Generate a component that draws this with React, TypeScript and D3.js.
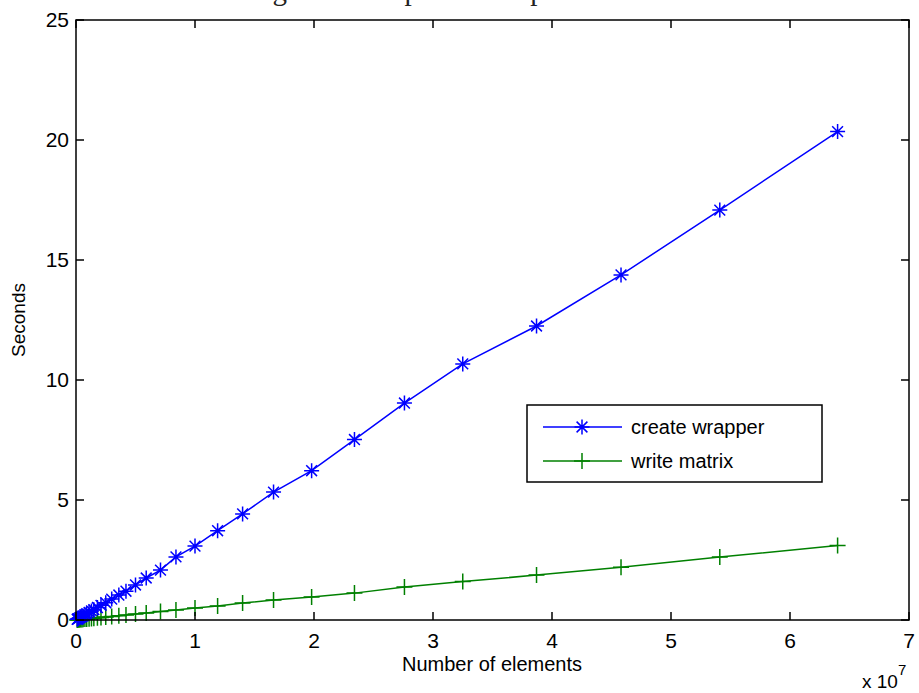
import { useEffect, useRef } from "react";
import * as d3 from "d3";

// x in units of 1e7 elements
const ELEMENTS = [
  0.01, 0.015, 0.02, 0.03, 0.04, 0.05, 0.06, 0.075, 0.09, 0.11, 0.13, 0.15, 0.18, 0.21, 0.25, 0.3, 0.36,
  0.42, 0.5, 0.59, 0.71, 0.84, 1.0, 1.19, 1.4, 1.66, 1.98, 2.34, 2.76, 3.25, 3.87, 4.58, 5.41, 6.4,
];
const CREATE_WRAPPER = [
  0.03, 0.04, 0.06, 0.09, 0.12, 0.15, 0.17, 0.22, 0.26, 0.32, 0.38, 0.43, 0.52, 0.61, 0.72, 0.87, 1.04,
  1.2, 1.46, 1.75, 2.08, 2.63, 3.08, 3.72, 4.42, 5.33, 6.22, 7.52, 9.04, 10.67, 12.25, 14.38, 17.08, 20.35,
];
const WRITE_MATRIX = [
  0.005, 0.008, 0.01, 0.015, 0.02, 0.025, 0.03, 0.037, 0.045, 0.055, 0.065, 0.075, 0.09, 0.105, 0.125,
  0.15, 0.18, 0.21, 0.25, 0.29, 0.35, 0.42, 0.5, 0.58, 0.71, 0.83, 0.96, 1.12, 1.37, 1.6, 1.87, 2.2, 2.62,
  3.1,
];
const X_TICKS = [0, 1, 2, 3, 4, 5, 6, 7];
const Y_TICKS = [0, 5, 10, 15, 20, 25];
const SERIES_NAMES = ["create wrapper", "write matrix"];
const TITLE = "Figure 5: Output of complex matrices";

const W = 919;
const H = 693;
const FONT = "'Liberation Sans', Arial, Helvetica, sans-serif";

export default function App() {
  const svgRef = useRef<SVGSVGElement>(null);

  useEffect(() => {
    const svgEl = svgRef.current;
    if (!svgEl) return;
    const root = d3.select(svgEl);
    root.selectAll("*").remove();

    const margin = { top: 20, right: 10, bottom: 73, left: 76 };
    const x = d3.scaleLinear().domain([0, 7]).range([margin.left, W - margin.right]);
    const y = d3.scaleLinear().domain([0, 25]).range([H - margin.bottom, margin.top]);
    const [x0, x1] = x.range();
    const [y0, y1] = y.range();
    const tickLen = 8;
    const sw = 1.5;

    root.append("rect").attr("width", W).attr("height", H).attr("fill", "#fff");

    // figure caption, clipped by the top edge as in the source
    root
      .append("text")
      .attr("x", 467)
      .attr("y", 0)
      .attr("text-anchor", "middle")
      .attr("font-family", "'Liberation Serif', 'Times New Roman', serif")
      .attr("font-size", 29)
      .attr("fill", "#222")
      .text(TITLE);

    const plot = root.append("g");

    const lineGen = (vals: number[]) =>
      d3
        .line<number>()
        .x((_, i) => x(ELEMENTS[i]))
        .y((d) => y(d))(vals);

    const drawStar = (g: d3.Selection<SVGGElement, unknown, null, undefined>, cx: number, cy: number, color: string) => {
      const r = 7.5;
      const d = r * 0.72;
      g.append("path")
        .attr("d", `M${cx - r},${cy}H${cx + r}M${cx},${cy - r}V${cy + r}M${cx - d},${cy - d}L${cx + d},${cy + d}M${cx - d},${cy + d}L${cx + d},${cy - d}`)
        .attr("stroke", color)
        .attr("stroke-width", sw)
        .attr("fill", "none");
    };
    const drawPlus = (g: d3.Selection<SVGGElement, unknown, null, undefined>, cx: number, cy: number, color: string) => {
      const r = 8;
      g.append("path")
        .attr("d", `M${cx - r},${cy}H${cx + r}M${cx},${cy - r}V${cy + r}`)
        .attr("stroke", color)
        .attr("stroke-width", sw)
        .attr("fill", "none");
    };

    plot
      .append("path")
      .attr("d", lineGen(WRITE_MATRIX))
      .attr("fill", "none")
      .attr("stroke", "#008000")
      .attr("stroke-width", sw);
    const gGreen = plot.append("g");
    WRITE_MATRIX.forEach((v, i) => drawPlus(gGreen, x(ELEMENTS[i]), y(v), "#008000"));

    plot
      .append("path")
      .attr("d", lineGen(CREATE_WRAPPER))
      .attr("fill", "none")
      .attr("stroke", "#0000ff")
      .attr("stroke-width", sw);
    const gBlue = plot.append("g");
    CREATE_WRAPPER.forEach((v, i) => drawStar(gBlue, x(ELEMENTS[i]), y(v), "#0000ff"));

    // axes box and inward ticks
    const axes = root.append("g").attr("stroke", "#000").attr("stroke-width", sw).attr("fill", "none");
    axes.append("rect").attr("x", x0).attr("y", y1).attr("width", x1 - x0).attr("height", y0 - y1);
    X_TICKS.forEach((t) => {
      axes.append("line").attr("x1", x(t)).attr("x2", x(t)).attr("y1", y0).attr("y2", y0 - tickLen);
      axes.append("line").attr("x1", x(t)).attr("x2", x(t)).attr("y1", y1).attr("y2", y1 + tickLen);
    });
    Y_TICKS.forEach((t) => {
      axes.append("line").attr("x1", x0).attr("x2", x0 + tickLen).attr("y1", y(t)).attr("y2", y(t));
      axes.append("line").attr("x1", x1).attr("x2", x1 - tickLen).attr("y1", y(t)).attr("y2", y(t));
    });

    const labels = root.append("g").attr("font-family", FONT).attr("font-size", 21).attr("fill", "#000");
    X_TICKS.forEach((t) => {
      labels.append("text").attr("x", x(t)).attr("y", y0 + 28).attr("text-anchor", "middle").text(String(t));
    });
    Y_TICKS.forEach((t) => {
      labels.append("text").attr("x", x0 - 7).attr("y", y(t) + 7).attr("text-anchor", "end").text(String(t));
    });

    labels
      .append("text")
      .attr("x", 492)
      .attr("y", 671)
      .attr("text-anchor", "middle")
      .attr("font-size", 20)
      .text("Number of elements");
    labels
      .append("text")
      .attr("transform", `translate(25,${(y0 + y1) / 2}) rotate(-90)`)
      .attr("text-anchor", "middle")
      .attr("font-size", 19)
      .text("Seconds");

    const expo = labels.append("text").attr("x", 862).attr("y", 688).attr("font-size", 19);
    expo.append("tspan").text("x 10");
    expo.append("tspan").attr("dy", -13).attr("font-size", 15).text("7");

    // legend
    const lg = root.append("g");
    lg.append("rect")
      .attr("x", 527)
      .attr("y", 405)
      .attr("width", 295)
      .attr("height", 77)
      .attr("fill", "#fff")
      .attr("stroke", "#000")
      .attr("stroke-width", sw);
    const rows = [
      { name: SERIES_NAMES[0], color: "#0000ff", yy: 427, mark: drawStar },
      { name: SERIES_NAMES[1], color: "#008000", yy: 461, mark: drawPlus },
    ];
    rows.forEach((r) => {
      lg.append("line")
        .attr("x1", 543)
        .attr("x2", 622)
        .attr("y1", r.yy)
        .attr("y2", r.yy)
        .attr("stroke", r.color)
        .attr("stroke-width", sw);
      r.mark(lg, 582, r.yy, r.color);
      lg.append("text")
        .attr("x", 631)
        .attr("y", r.yy + 7)
        .attr("font-family", FONT)
        .attr("font-size", 20)
        .attr("fill", "#000")
        .text(r.name);
    });
  }, []);

  return (
    <svg
      ref={svgRef}
      width={W}
      height={H}
      viewBox={`0 0 ${W} ${H}`}
      style={{ position: "absolute", left: 0, top: 0, display: "block" }}
    />
  );
}
